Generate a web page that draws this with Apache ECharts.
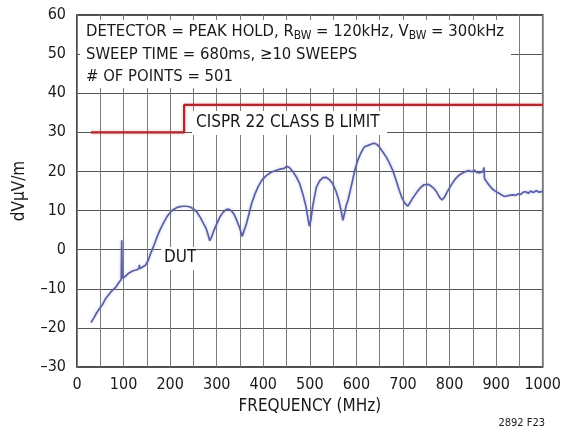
<!DOCTYPE html>
<html>
<head>
<meta charset="utf-8">
<script src="https://cdn.jsdelivr.net/npm/echarts@6/dist/echarts.min.js"></script>
<style>
  html, body { margin: 0; padding: 0; background: #fff; }
  #chart { width: 564px; height: 439px; }
</style>
</head>
<body>
<div id="chart"></div>
<script>
// Radiated emissions sweep, 0–1000 MHz
const xTickLabels = ['0', '100', '200', '300', '400', '500', '600', '700', '800', '900', '1000'];
const yTickLabels = ['\u201330', '\u201320', '\u201310', '0', '10', '20', '30', '40', '50', '60'];

// CISPR 22 class B limit
const limitFreq  = [30, 230, 230, 1000];
const limitLevel = [30, 30, 37, 37];

// Measured DUT emissions
const dutFreq = [
  30, 36, 42, 48, 55, 62, 70, 77, 84, 90, 95, 96, 97, 102, 110, 120, 127, 133, 134, 135,
  140, 147, 153, 158, 164, 171, 178, 186, 193, 200, 207, 215, 222, 228, 235, 243, 250, 257,
  265, 272, 277, 281, 285, 289, 293, 298, 307, 314, 321, 327, 332, 338, 343, 348, 352, 355,
  358, 364, 370, 375, 382, 389, 397, 407, 417, 428, 436, 440, 445, 450, 456, 464, 471, 478,
  485, 492, 496, 499, 502, 506, 510, 514, 521, 528, 535, 542, 549, 556, 562, 567, 571, 575,
  578, 582, 587, 592, 597, 603, 610, 617, 624, 628, 634, 639, 644, 649, 656, 664, 671, 678,
  685, 692, 698, 704, 710, 715, 720, 724, 731, 738, 745, 749, 755, 761, 767, 773, 779, 784,
  789, 794, 799, 806, 814, 821, 828, 835, 842, 848, 853, 858, 864, 868, 872, 874, 875, 880,
  885, 892, 899, 906, 913, 918, 921, 926, 930, 935, 942, 948, 953, 958, 964, 969, 974, 980,
  986, 992, 1000
];
const dutLevel = [
  -18.6, -17.5, -16.2, -15.1, -14.0, -12.4, -11.2, -10.3, -9.5, -8.4, -7.6, 2.4, -7.2, -7.0, -6.1, -5.4, -5.2, -4.9, -3.9, -4.8,
  -4.5, -4.0, -2.7, -1.0, 0.7, 3.0, 5.0, 6.9, 8.4, 9.5, 10.3, 10.8, 11.0, 11.1, 11.1, 10.9, 10.4, 9.7,
  8.2, 6.6, 5.5, 4.0, 2.3, 3.2, 4.6, 6.0, 8.4, 9.6, 10.3, 10.3, 9.9, 8.9, 7.5, 6.0, 4.5, 3.4,
  4.6, 6.7, 9.5, 11.8, 14.2, 16.1, 17.8, 19.0, 19.8, 20.3, 20.6, 21.0, 20.8, 21.3, 21.0, 19.9, 18.6, 16.9,
  14.2, 10.9, 8.0, 6.0, 7.5, 11.0, 13.5, 16.0, 17.6, 18.4, 18.5, 17.9, 16.9, 15.0, 12.7, 10.0, 7.5, 9.5,
  11.3, 12.7, 15.2, 17.8, 20.5, 22.9, 24.8, 26.3, 26.6, 26.9, 27.1, 27.2, 26.9, 26.3, 25.1, 23.7, 22.1, 20.3,
  17.8, 15.2, 13.2, 11.9, 11.1, 12.0, 13.0, 13.5, 14.9, 15.9, 16.6, 16.9, 16.7, 16.2, 15.6, 14.6, 13.3, 12.7,
  13.4, 14.6, 15.6, 17.0, 18.3, 19.1, 19.6, 20.0, 20.2, 19.9, 20.3, 19.8, 19.6, 20.1, 20.0, 21.0, 18.2, 17.3,
  16.5, 15.5, 14.9, 14.4, 13.9, 13.6, 13.5, 13.8, 13.4, 14.0, 13.9, 14.3, 14.1, 14.7, 14.8, 14.4, 15.0, 14.6,
  15.1, 14.7, 14.9
];

const FONT = '"DejaVu Sans Condensed", "Liberation Sans Narrow", sans-serif';
const TEXT = '#1a1a1a';

const pairs = (xs, ys) => xs.map((x, i) => [x, ys[i]]);

const chart = echarts.init(document.getElementById('chart'), null, { renderer: 'canvas' });

chart.setOption({
  animation: false,
  backgroundColor: '#fff',
  textStyle: { fontFamily: FONT },
  grid: {
    left: 77, right: 20, top: 15, bottom: 72,
    show: true, borderColor: '#111', borderWidth: 1.5, backgroundColor: 'transparent'
  },
  xAxis: {
    type: 'value', min: 0, max: 1000, interval: 50,
    name: 'FREQUENCY (MHz)', nameLocation: 'middle', nameGap: 30,
    nameTextStyle: { fontFamily: FONT, fontSize: 17, color: TEXT },
    axisLine: { show: false }, axisTick: { show: false },
    axisLabel: {
      fontFamily: FONT, fontSize: 16, color: TEXT, margin: 10,
      formatter: v => (v % 100 === 0 ? xTickLabels[v / 100] : '')
    },
    splitLine: { show: true, lineStyle: { color: '#7a7a7a', width: 1 } }
  },
  yAxis: {
    type: 'value', min: -30, max: 60, interval: 10,
    name: 'dV\u03bcV/m', nameLocation: 'middle', nameGap: 49,
    nameTextStyle: { fontFamily: FONT, fontSize: 17, color: TEXT },
    axisLine: { show: false }, axisTick: { show: false },
    axisLabel: {
      fontFamily: FONT, fontSize: 16, color: TEXT, margin: 11,
      formatter: v => yTickLabels[(v + 30) / 10]
    },
    splitLine: { show: true, lineStyle: { color: '#555', width: 1 } }
  },
  series: [
    {
      name: 'CISPR 22 CLASS B LIMIT', type: 'line', z: 4,
      data: pairs(limitFreq, limitLevel), showSymbol: false, symbol: 'none',
      lineStyle: { color: '#b3262c', width: 2.2, shadowColor: 'rgba(200,70,70,0.45)', shadowBlur: 3 }
    },
    {
      name: 'DUT', type: 'line', z: 3,
      data: pairs(dutFreq, dutLevel), showSymbol: false, symbol: 'none',
      lineStyle: { color: '#5a60a8', width: 1.7, shadowColor: 'rgba(90,96,168,0.35)', shadowBlur: 3 }
    }
  ],
  graphic: [
    // test-condition note box
    { type: 'rect', z: 10, shape: { x: 80, y: 20, width: 431, height: 68 }, style: { fill: '#fff' } },
    {
      type: 'text', z: 11, x: 86, y: 32,
      style: {
        text: 'DETECTOR = PEAK HOLD, R{s|BW} = 120kHz, V{s|BW} = 300kHz',
        font: '16.5px ' + FONT, fill: TEXT, verticalAlign: 'middle', lineHeight: 20,
        rich: { s: { fontSize: 12, fontFamily: FONT, fill: TEXT, lineHeight: 11, verticalAlign: 'bottom' } }
      }
    },
    {
      type: 'text', z: 11, x: 86, y: 55,
      style: { text: 'SWEEP TIME = 680ms, \u226510 SWEEPS', font: '16.5px ' + FONT, fill: TEXT, verticalAlign: 'middle' }
    },
    {
      type: 'text', z: 11, x: 86, y: 77,
      style: { text: '# OF POINTS = 501', font: '16.5px ' + FONT, fill: TEXT, verticalAlign: 'middle' }
    },
    // limit label
    { type: 'rect', z: 10, shape: { x: 192, y: 111, width: 195, height: 24 }, style: { fill: '#fff' } },
    {
      type: 'text', z: 11, x: 196, y: 123,
      style: { text: 'CISPR 22 CLASS B LIMIT', font: '17px ' + FONT, fill: TEXT, verticalAlign: 'middle' }
    },
    // trace label
    { type: 'rect', z: 10, shape: { x: 161, y: 247, width: 36, height: 23 }, style: { fill: '#fff' } },
    {
      type: 'text', z: 11, x: 164, y: 258,
      style: { text: 'DUT', font: '17px ' + FONT, fill: TEXT, verticalAlign: 'middle' }
    },
    {
      type: 'text', z: 11, x: 545, y: 423,
      style: { text: '2892 F23', font: '11px ' + FONT, fill: TEXT, align: 'right', verticalAlign: 'middle' }
    }
  ]
});
</script>
</body>
</html>
